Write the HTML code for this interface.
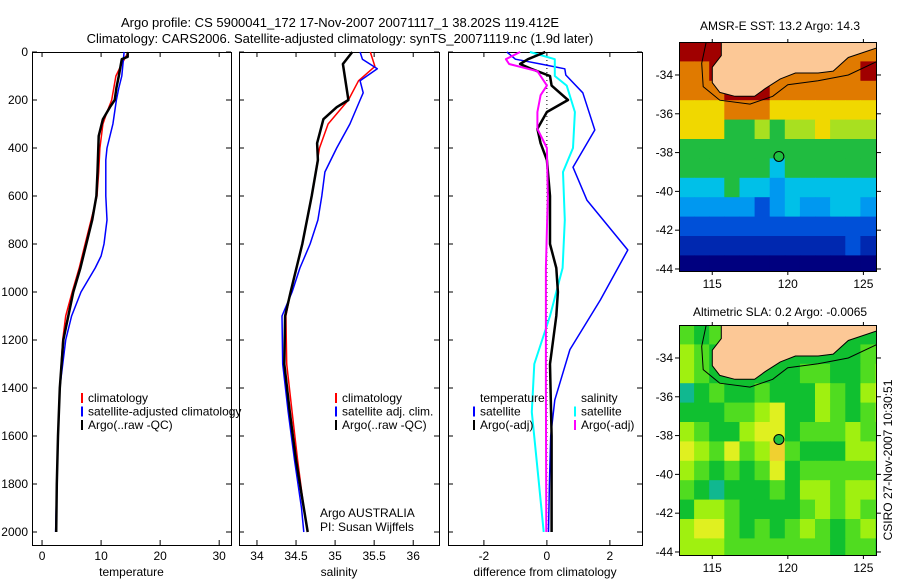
<!DOCTYPE html>
<html><head><meta charset="utf-8"><style>
body{margin:0;background:#fff;}
svg{display:block;font-family:"Liberation Sans",sans-serif;}
</style></head><body>
<svg id="fig" width="900" height="580">
<text x="340" y="27" font-size="13" text-anchor="middle">Argo profile: CS 5900041_172 17-Nov-2007 20071117_1 38.202S 119.412E</text>
<text x="340" y="43" font-size="13" text-anchor="middle">Climatology: CARS2006. Satellite-adjusted climatology: synTS_20071119.nc (1.9d later)</text>
<g id="plots"></g>
<text x="780" y="30" font-size="12" text-anchor="middle">AMSR-E SST: 13.2 Argo: 14.3</text>
<text x="780" y="316" font-size="12" text-anchor="middle">Altimetric SLA: 0.2 Argo: -0.0065</text>
<text transform="translate(892,460) rotate(-90)" font-size="12" text-anchor="middle">CSIRO 27-Nov-2007 10:30:51</text>
</svg>
<script>
// ---- profile data ----
const tempDepth = [0,50,100,200,250,300,400,500,600,700,800,900,1000,1100,1200,1400,1600,1800,2000];
const tempClim = [14.6,13.5,12.5,11.8,11.0,10.3,9.8,9.6,9.3,8.3,7.3,6.3,5.1,4.0,3.5,3.0,2.7,2.5,2.4];
const tempArgoDepth = [0,20,30,100,150,200,230,280,350,500,600,700,800,900,1000,1200,1400,1600,1800,2000];
const tempArgo = [14.5,14.5,13.5,13.0,12.6,12.3,11.5,10.3,9.6,9.4,9.2,8.5,7.5,6.5,5.3,3.6,3.0,2.7,2.5,2.4];
const tempSatDepth = [0,100,150,200,300,400,450,600,700,800,850,900,1000,1100,1200,1400,1600,1800,2000];
const tempSat = [13.9,13.5,13.0,12.6,12.0,11.0,10.8,10.8,11.0,10.5,10.0,9.0,6.6,5.0,4.0,3.0,2.7,2.5,2.3];

const salClimDepth = [0,60,120,200,300,400,600,800,1000,1100,1300,1500,1700,1900,2000];
const salClim = [35.45,35.51,35.3,35.17,34.91,34.8,34.7,34.58,34.43,34.37,34.38,34.45,34.52,34.6,34.65];
const salArgoDepth = [0,50,200,230,280,380,450,600,800,1000,1100,1300,1500,1700,1900,2000];
const salArgo = [35.22,35.1,35.17,35.02,34.85,34.77,34.78,34.7,34.58,34.43,34.36,34.35,34.42,34.5,34.6,34.65];
const salSatDepth = [0,30,70,120,170,200,300,400,500,600,700,800,900,1000,1100,1300,1500,1700,1900,2000];
const salSat = [35.32,35.35,35.54,35.32,35.36,35.32,35.19,35.02,34.87,34.83,34.78,34.68,34.55,34.45,34.32,34.33,34.4,34.48,34.57,34.6];

const diffTSatDepth = [0,30,50,70,96,170,325,480,617,825,1033,1240,1450,1600,1800,2000];
const diffTSat = [-1.27,-1.0,-0.2,0.57,0.6,1.14,1.52,0.83,1.27,2.57,1.7,0.73,0.25,0.12,0.08,0.05];
const diffSSatDepth = [0,30,70,100,140,250,400,500,700,900,1100,1300,1500,1800,2000];
const diffSSat = [-0.54,0.25,0.25,0.25,0.63,0.89,0.83,0.51,0.57,0.5,0.1,-0.4,-0.48,-0.25,-0.1];
const diffTArgoDepth = [0,30,50,70,100,140,200,250,320,380,450,600,800,900,1000,1100,1300,1600,2000];
const diffTArgo = [-0.05,-0.6,-0.85,-0.5,0.1,0.15,0.67,0.0,-0.3,-0.2,0.0,0.1,0.1,0.3,0.35,0.3,0.1,0.15,0.15];
const diffSArgoDepth = [0,30,50,80,140,180,250,320,400,600,900,1400,2000];
const diffSArgo = [-0.85,-1.3,-1.2,-0.3,0.0,-0.2,-0.3,-0.3,0.0,0.03,-0.03,-0.03,-0.02];

const depthTicks = [0,200,400,600,800,1000,1200,1400,1600,1800,2000];
const tempTicks = [0,10,20,30];
const salTicks = [34,34.5,35,35.5,36];
const diffTicks = [-2,0,2];

// ---- map data ----
const lonTicks = [115,120,125];
const latTicks = [-34,-36,-38,-40,-42,-44];
const sstGrid = [
[9,9,9,8,8,8,8,8,8,8,8,8,8,8],
[8,8,9,9,8,8,8,8,8,8,8,8,9,9],
[8,8,8,9,9,9,8,8,8,8,8,8,8,8],
[7,7,7,8,8,8,7,7,7,7,7,7,7,7],
[7,7,7,5,5,6,5,6,6,7,6,6,6,6],
[5,5,5,5,5,5,5,5,5,5,5,5,5,5],
[5,5,5,5,5,5,4,5,5,5,5,5,5,5],
[4,4,4,5,4,4,3,4,4,4,4,4,4,4],
[3,3,3,3,3,2,3,4,3,3,4,4,3,3],
[2,2,2,2,2,2,2,2,2,2,2,2,2,2],
[1,1,1,1,1,1,1,1,1,1,1,2,1,1],
[0,0,0,0,0,0,0,0,0,0,0,0,0,0]];
const slaGrid = [
[2,1,2,1,1,1,1,1,1,1,1,1,1,1],
[3,2,1,1,1,1,1,1,1,1,1,1,2,2],
[3,2,1,1,1,1,1,1,2,2,1,1,2,3],
[0,1,2,1,1,2,1,1,1,3,2,1,3,4],
[1,1,1,2,2,3,4,1,1,3,2,1,2,3],
[3,2,1,1,3,4,4,1,2,2,2,3,2,2],
[4,3,2,4,2,3,5,2,1,1,1,3,3,2],
[3,2,1,2,1,2,4,1,2,2,2,2,2,2],
[2,1,0,1,1,1,2,1,3,3,2,3,3,2],
[1,3,3,2,1,1,1,1,2,3,2,3,2,2],
[3,4,4,2,1,2,1,2,3,2,1,2,3,2],
[3,3,3,2,2,2,2,2,2,2,1,2,2,1]];
const argoLon = 119.41, argoLat = -38.2;
const landLon = [115.6,115.6,115.0,115.0,115.5,116.5,117.8,118.5,119.5,120.5,122,123,124,125.9,125.9];
const landLat = [-32.3,-33.0,-33.6,-34.4,-34.9,-35.1,-35.1,-34.7,-34.2,-33.9,-33.9,-33.8,-33.1,-32.6,-32.3];
const shelfLon = [114.6,114.3,114.4,115.5,117.5,119,120,122,124,125.9];
const shelfLat = [-32.3,-33.4,-34.6,-35.3,-35.5,-35.1,-34.5,-34.3,-34.0,-33.3];

const sstColors = ['#00007f','#0028b0','#0050d8','#0098f0','#00c0e8','#20bc40','#a8e020','#f0d800','#e07a00','#a00000'];
const slaColors = ['#10b890','#10c030','#50dc20','#a0f010','#e0f020','#f0d030'];

const NS='http://www.w3.org/2000/svg';
const root=document.getElementById('plots');
function mk(tag,attrs,parent){const e=document.createElementNS(NS,tag);for(const k in attrs)e.setAttribute(k,attrs[k]);(parent||root).appendChild(e);return e;}

const yTop=52, yBot=545;
const yD = d => yTop + d*0.24;

function panel(name,x0,x1,dmin,dmax,ticks,fmt,xlabel){
  const g=mk('g',{});
  
  
  const sx = v => x0 + (v-dmin)/(dmax-dmin)*(x1-x0);
  const r=mk('rect',{x:x0+0.5,y:yTop+0.5,width:x1-x0,height:yBot-yTop,fill:'none',stroke:'#000'},g);
  
  
  ticks.forEach(t=>{
    const x=sx(t);
    mk('line',{x1:x,x2:x,y1:yBot,y2:yBot-5,stroke:'#000'},g);
    mk('line',{x1:x,x2:x,y1:yTop,y2:yTop+5,stroke:'#000'},g);
    const tx=mk('text',{x:x,y:560,'font-size':12,'text-anchor':'middle'},g);
    tx.textContent=fmt(t);
    
    
  });
  depthTicks.forEach(d=>{
    mk('line',{x1:x0,x2:x0+5,y1:yD(d),y2:yD(d),stroke:'#000'},g);
    mk('line',{x1:x1,x2:x1-5,y1:yD(d),y2:yD(d),stroke:'#000'},g);
  });
  const xl=mk('text',{x:(x0+x1)/2,y:576,'font-size':12,'text-anchor':'middle'},g);
  xl.textContent=xlabel;
  
  
  return {g,sx};
}
function line(p,depths,vals,color,w,name){
  const pts=depths.map((d,i)=>p.sx(vals[i]).toFixed(1)+','+yD(d).toFixed(1)).join(' ');
  const l=mk('polyline',{points:pts,fill:'none',stroke:color,'stroke-width':w,'stroke-linejoin':'round'},p.g);
  
  
}
function legend(p,x,y,items){
  items.forEach((it,i)=>{
    const yy=y+i*13.5;
    if(it[1]) mk('line',{x1:x,x2:x,y1:yy-9,y2:yy+1,stroke:it[1],'stroke-width':2},p.g);
    const t=mk('text',{x:x+6,y:yy,'font-size':12},p.g);
    t.textContent=it[0];
    
    
  });
}

depthTicks.forEach(d=>{
  const t=mk('text',{x:28,y:yD(d)+4,'font-size':12,'text-anchor':'end'});
  t.textContent=d;
  
  
});

const pT=panel('temperature-panel',32,231,-1.7,32.0,tempTicks,v=>v,'temperature');
line(pT,tempDepth,tempClim,'#f00',1.5,'temp-climatology-line');
line(pT,tempSatDepth,tempSat,'#00f',1.5,'temp-satellite-line');
line(pT,tempArgoDepth,tempArgo,'#000',2.5,'temp-argo-line');
legend(pT,82,402,[['climatology','#f00'],['satellite-adjusted climatology','#00f'],['Argo(..raw -QC)','#000']]);

const pS=panel('salinity-panel',239,439,33.77,36.33,salTicks,v=>v,'salinity');
line(pS,salClimDepth,salClim,'#f00',1.5,'sal-climatology-line');
line(pS,salSatDepth,salSat,'#00f',1.5,'sal-satellite-line');
line(pS,salArgoDepth,salArgo,'#000',2.5,'sal-argo-line');
legend(pS,336,402,[['climatology','#f00'],['satellite adj. clim.','#00f'],['Argo(..raw -QC)','#000']]);
const a1=mk('text',{x:320,y:517,'font-size':12},pS.g);a1.textContent='Argo AUSTRALIA';


const a2=mk('text',{x:320,y:531,'font-size':12},pS.g);a2.textContent='PI: Susan Wijffels';



const pD=panel('difference-panel',448,642,-3.14,3.02,diffTicks,v=>v,'difference from climatology');
mk('line',{x1:pD.sx(0),x2:pD.sx(0),y1:yTop,y2:yD(2000),stroke:'#000','stroke-dasharray':'1,3'},pD.g);
line(pD,diffTSatDepth,diffTSat,'#00f',1.5,'diff-temp-satellite-line');
line(pD,diffSSatDepth,diffSSat,'#0ff',2,'diff-sal-satellite-line');
line(pD,diffTArgoDepth,diffTArgo,'#000',2.5,'diff-temp-argo-line');
line(pD,diffSArgoDepth,diffSArgo,'#f0f',2,'diff-sal-argo-line');
legend(pD,474,402,[['temperature',null],['satellite','#00f'],['Argo(-adj)','#000']]);
legend(pD,575,402,[['salinity',null],['satellite','#0ff'],['Argo(-adj)','#f0f']]);

function map(name,y0,y1,grid,colors){
  const x0=679,x1=877,lon0=112.8,lon1=125.9,lat0=-32.3;
  const pxLat=19.4;
  const sx=l=>x0+(l-lon0)/(lon1-lon0)*(x1-x0);
  const sy=l=>y0+(lat0-l)*pxLat;
  const g=mk('g',{});
  
  
  const cid='clip'+name;
  const cp=mk('clipPath',{id:cid},g);mk('rect',{x:x0,y:y0,width:x1-x0,height:y1-y0},cp);
  const inner=mk('g',{'clip-path':'url(#'+cid+')'},g);
  grid.forEach((row,r)=>row.forEach((v,c)=>{
    const la=lat0-r, lo=lon0+c;
    const cell=mk('rect',{x:sx(lo).toFixed(1),y:sy(la).toFixed(1),width:(sx(lo+1)-sx(lo)+0.6).toFixed(1),height:(pxLat+0.6).toFixed(1),fill:colors[v]},inner);
    
    
  }));
  const land=mk('polygon',{points:landLon.map((l,i)=>sx(l).toFixed(1)+','+sy(landLat[i]).toFixed(1)).join(' '),fill:'#fcc896',stroke:'#000','stroke-width':1},inner);
  
  
  const sh=mk('polyline',{points:shelfLon.map((l,i)=>sx(l).toFixed(1)+','+sy(shelfLat[i]).toFixed(1)).join(' '),fill:'none',stroke:'#000','stroke-width':1},inner);
  
  
  const m=mk('circle',{cx:sx(argoLon),cy:sy(argoLat),r:5,fill:'#20c040',stroke:'#000'},g);
  
  
  mk('rect',{x:x0+0.5,y:y0+0.5,width:x1-x0-1,height:y1-y0,fill:'none',stroke:'#000'},g);
  lonTicks.forEach(l=>{
    mk('line',{x1:sx(l),x2:sx(l),y1:y1,y2:y1+4,stroke:'#000'},g);
    mk('line',{x1:sx(l),x2:sx(l),y1:y0,y2:y0-3,stroke:'#000'},g);
    const t=mk('text',{x:sx(l),y:y1+17,'font-size':12,'text-anchor':'middle'},g);t.textContent=l;
    
    
  });
  latTicks.forEach(l=>{
    mk('line',{x1:x0,x2:x0-4,y1:sy(l),y2:sy(l),stroke:'#000'},g);
    mk('line',{x1:x1,x2:x1+4,y1:sy(l),y2:sy(l),stroke:'#000'},g);
    const t=mk('text',{x:x0-6,y:sy(l)+4,'font-size':12,'text-anchor':'end'},g);t.textContent=l;
    
    
  });
}
map('sst-map',42,271,sstGrid,sstColors);
map('sla-map',325,555,slaGrid,slaColors);
</script>
</body></html>
